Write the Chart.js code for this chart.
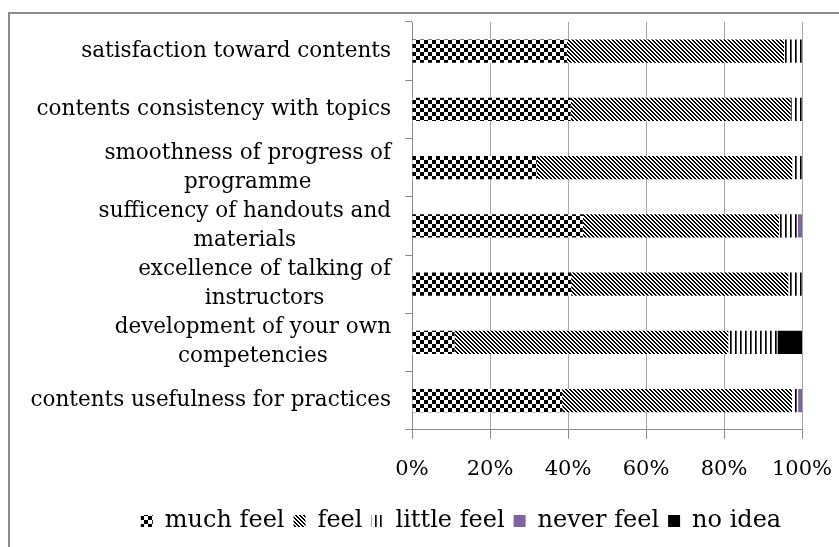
<!DOCTYPE html>
<html>
<head>
<meta charset="utf-8">
<script src="https://cdn.jsdelivr.net/npm/chart.js@4/dist/chart.umd.min.js"></script>
<style>
  html, body { margin: 0; padding: 0; background: #fff; overflow: hidden; }
  #wrap { position: relative; width: 839px; height: 547px; overflow: hidden; }
  #frame { position: absolute; left: 8px; top: 12px; width: 900px; height: 600px;
           border-left: 2px solid #8c8c8c; border-top: 2px solid #8c8c8c; box-sizing: border-box; }
  #c { position: absolute; left: 0; top: 0; }
</style>
</head>
<body>
<div id="wrap">
  <div id="frame"></div>
  <canvas id="c" width="839" height="547"></canvas>
</div>
<script>
// ---- data ----
const categories = [
  ["satisfaction toward contents"],
  ["contents consistency with topics"],
  ["smoothness of progress of", "programme"],
  ["sufficency of handouts and", "materials"],
  ["excellence of talking of", "instructors"],
  ["development of your own", "competencies"],
  ["contents usefulness for practices"]
];
const seriesNames = ["much feel", "feel", "little feel", "never feel", "no idea"];
const muchFeel   = [39.7, 40.7, 32.0, 43.8, 40.8, 10.9, 38.5];
const feel       = [55.7, 56.4, 65.5, 50.3, 55.7, 70.2, 58.9];
const littleFeel = [4.6, 2.9, 2.5, 4.8, 3.5, 12.6, 1.6];
const neverFeel  = [0, 0, 0, 1.1, 0, 0, 1.0];
const noIdea     = [0, 0, 0, 0, 0, 6.3, 0];
const xTicks = [0, 20, 40, 60, 80, 100];

// ---- patterns ----
function makePattern(type) {
  const c = document.createElement('canvas');
  const g = c.getContext('2d');
  if (type === 'checker') {
    c.width = 8; c.height = 8;
    g.fillStyle = '#fff'; g.fillRect(0, 0, 8, 8);
    g.fillStyle = '#000'; g.fillRect(0, 0, 4, 4); g.fillRect(4, 4, 4, 4);
  } else if (type === 'diag') {
    c.width = 4; c.height = 4;
    g.fillStyle = '#fff'; g.fillRect(0, 0, 4, 4);
    g.fillStyle = '#000';
    for (let i = 0; i < 4; i++) { g.fillRect(i, i, 1, 1); g.fillRect((i + 1) % 4, i, 1, 1); }
  } else if (type === 'vert') {
    c.width = 5; c.height = 5;
    g.fillStyle = '#fff'; g.fillRect(0, 0, 5, 5);
    g.fillStyle = '#000'; g.fillRect(0, 0, 1, 5);
    g.fillStyle = '#555'; g.fillRect(1, 0, 1, 5);
  }
  return g.createPattern(c, 'repeat');
}

const FONT = '"DejaVu Serif", serif';
const AXIS_GRAY = '#8c8c8c';
const GRID_GRAY = '#a6a6a6';
const PAD_LEFT = 120, PAD_RIGHT = 37, PLOT_LEFT = 412, LABEL_RIGHT = 391;

const yLabelPlugin = {
  id: 'ylabels',
  afterDraw(chart) {
    const ctx = chart.ctx, ys = chart.scales.y;
    ctx.save();
    ctx.font = '21.5px ' + FONT;
    ctx.fillStyle = '#000';
    ctx.textAlign = 'center';
    ctx.textBaseline = 'middle';
    const lh = 29;
    categories.forEach((lines, i) => {
      const yc = ys.getPixelForValue(i);
      const w1 = ctx.measureText(lines[0]).width;
      const cx = LABEL_RIGHT - w1 / 2;
      const start = yc - (lines.length - 1) * lh / 2;
      lines.forEach((t, k) => ctx.fillText(t, cx, start + k * lh));
    });
    ctx.restore();
  }
};

const values = [muchFeel, feel, littleFeel, neverFeel, noIdea];
const fills = [makePattern('checker'), makePattern('diag'), makePattern('vert'), '#8064a2', '#000000'];

new Chart(document.getElementById('c'), {
  type: 'bar',
  data: {
    labels: categories,
    datasets: seriesNames.map((n, i) => ({
      label: n,
      data: values[i],
      backgroundColor: fills[i],
      borderWidth: 0,
      barPercentage: 0.4,
      categoryPercentage: 1.0
    }))
  },
  options: {
    indexAxis: 'y',
    responsive: false,
    animation: false,
    layout: { padding: { left: PAD_LEFT, right: PAD_RIGHT, top: 22, bottom: 4 } },
    scales: {
      x: {
        stacked: true,
        min: 0, max: 100,
        afterBuildTicks: (s) => { s.ticks = xTicks.map(v => ({ value: v })); },
        afterFit: (s) => { s.paddingLeft = 0; s.paddingRight = 0; },
        ticks: { callback: (v) => v + '%', color: '#000', font: { family: FONT, size: 21 }, padding: 18 },
        grid: { color: GRID_GRAY, lineWidth: 1, tickLength: 9, drawTicks: true, tickColor: AXIS_GRAY },
        border: { color: AXIS_GRAY, width: 1 }
      },
      y: {
        stacked: true,
        afterFit: (s) => { s.width = PLOT_LEFT - PAD_LEFT; },
        ticks: { display: false },
        grid: { drawOnChartArea: false, drawTicks: true, tickLength: 7, color: AXIS_GRAY, offset: true },
        border: { color: AXIS_GRAY, width: 1 }
      }
    },
    plugins: {
      legend: {
        position: 'bottom',
        labels: { font: { family: FONT, size: 24 }, color: '#000', boxWidth: 12, boxHeight: 12, padding: 9 }
      },
      tooltip: { enabled: false }
    }
  },
  plugins: [yLabelPlugin]
});
</script>
</body>
</html>
